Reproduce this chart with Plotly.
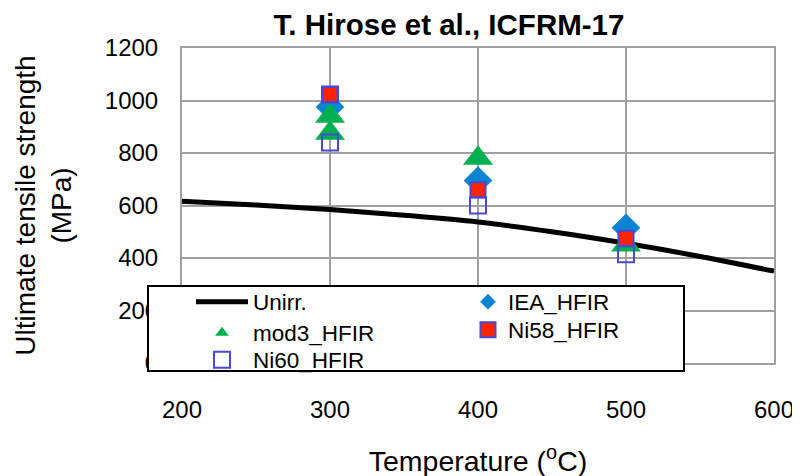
import plotly.graph_objects as go

# Data
unirr_T = [200, 250, 300, 350, 400, 450, 500, 550, 600]
unirr_UTS = [616, 602, 585, 563, 537, 500, 456, 406, 350]

iea_T = [300, 400, 500]
iea_UTS = [975, 695, 515]

mod3_T = [300, 300, 400, 500]
mod3_UTS = [940, 875, 780, 450]

ni58_T = [300, 400, 500]
ni58_UTS = [1023, 660, 475]

ni60_T = [300, 300, 400, 500]
ni60_UTS = [1023, 840, 600, 414]

x_ticks = [200, 300, 400, 500, 600]
y_ticks = [0, 200, 400, 600, 800, 1000, 1200]

FONT = "Liberation Sans, Arial, sans-serif"
BLUE_EDGE = "#4848d8"

# The page body adds an 8px offset; target screen geometry is shifted back by it.
OFF = 8
FIG_W, FIG_H = 800, 476
# target plot area on screen (px)
L, T, W, H = 182 - OFF, 48 - OFF, 592, 315


def px_x(p):
    return (p - OFF - L) / W


def px_y(p):
    return (T + H - (p - OFF)) / H


fig = go.Figure()
fig.add_trace(go.Scatter(x=unirr_T, y=unirr_UTS, mode="lines", name="Unirr.",
                         line=dict(color="black", width=5, shape="spline"),
                         legend="legend"))
fig.add_trace(go.Scatter(x=iea_T, y=iea_UTS, mode="markers", name="IEA_HFIR",
                         marker=dict(symbol="diamond", size=22, color="#0a84d2"),
                         legend="legend2"))
fig.add_trace(go.Scatter(x=mod3_T, y=mod3_UTS, mode="markers", name="mod3_HFIR",
                         marker=dict(symbol="triangle-up", size=26, color="#00b050"),
                         legend="legend3"))
fig.add_trace(go.Scatter(x=ni58_T, y=ni58_UTS, mode="markers", name="Ni58_HFIR",
                         marker=dict(symbol="square", size=15, color="#ff2200",
                                     line=dict(color=BLUE_EDGE, width=2)),
                         legend="legend4"))
fig.add_trace(go.Scatter(x=ni60_T, y=ni60_UTS, mode="markers", name="Ni60_HFIR",
                         marker=dict(symbol="square-open", size=16, color=BLUE_EDGE,
                                     line=dict(width=2)),
                         legend="legend5"))

leg_common = dict(bgcolor="rgba(0,0,0,0)", borderwidth=0, xanchor="left",
                  yanchor="middle", font=dict(size=22.5, family=FONT, color="black"))

fig.update_layout(
    width=FIG_W, height=FIG_H,
    margin=dict(l=L, r=FIG_W - L - W, t=T, b=FIG_H - T - H),
    paper_bgcolor="white", plot_bgcolor="white",
    font=dict(family=FONT, color="black"),
    title=dict(text="<b>T. Hirose et al., ICFRM-17</b>", x=(449 - OFF) / FIG_W,
               xanchor="center", y=1 - (25 - OFF) / FIG_H, yanchor="middle",
               font=dict(family=FONT, size=29.5, color="black")),
    xaxis=dict(range=[200, 600], tickvals=x_ticks, showgrid=True, gridcolor="#a0a0a0",
               gridwidth=2, showline=True, mirror=True, linecolor="#a0a0a0", linewidth=2,
               zeroline=False, ticks="", ticklabelstandoff=24, automargin=False,
               tickfont=dict(size=24, family=FONT),
               title=dict(text="Temperature (<sup>o</sup>C)", standoff=29,
                          font=dict(size=28.5, family=FONT))),
    yaxis=dict(range=[0, 1200], tickvals=y_ticks, showgrid=True, gridcolor="#a0a0a0",
               gridwidth=2, showline=True, mirror=True, linecolor="#a0a0a0", linewidth=2,
               zeroline=False, ticks="", ticklabelstandoff=17, automargin=False,
               tickfont=dict(size=24, family=FONT),
               title=dict(text="Ultimate tensile strength<br>(MPa)", standoff=25,
                          font=dict(size=28, family=FONT))),
    legend=dict(x=px_x(191), y=px_y(302), itemwidth=52, **leg_common),
    legend2=dict(x=px_x(468), y=px_y(302), itemsizing="constant", **leg_common),
    legend3=dict(x=px_x(191), y=px_y(333), itemwidth=52, itemsizing="constant", **leg_common),
    legend4=dict(x=px_x(468), y=px_y(330), **leg_common),
    legend5=dict(x=px_x(191), y=px_y(360), itemwidth=52, **leg_common),
    shapes=[dict(type="rect", xref="paper", yref="paper", layer="above",
                 x0=px_x(148), x1=px_x(684), y0=px_y(371), y1=px_y(286),
                 fillcolor="white", line=dict(color="black", width=2))],
    showlegend=True,
)

fig.write_html("out.html")
